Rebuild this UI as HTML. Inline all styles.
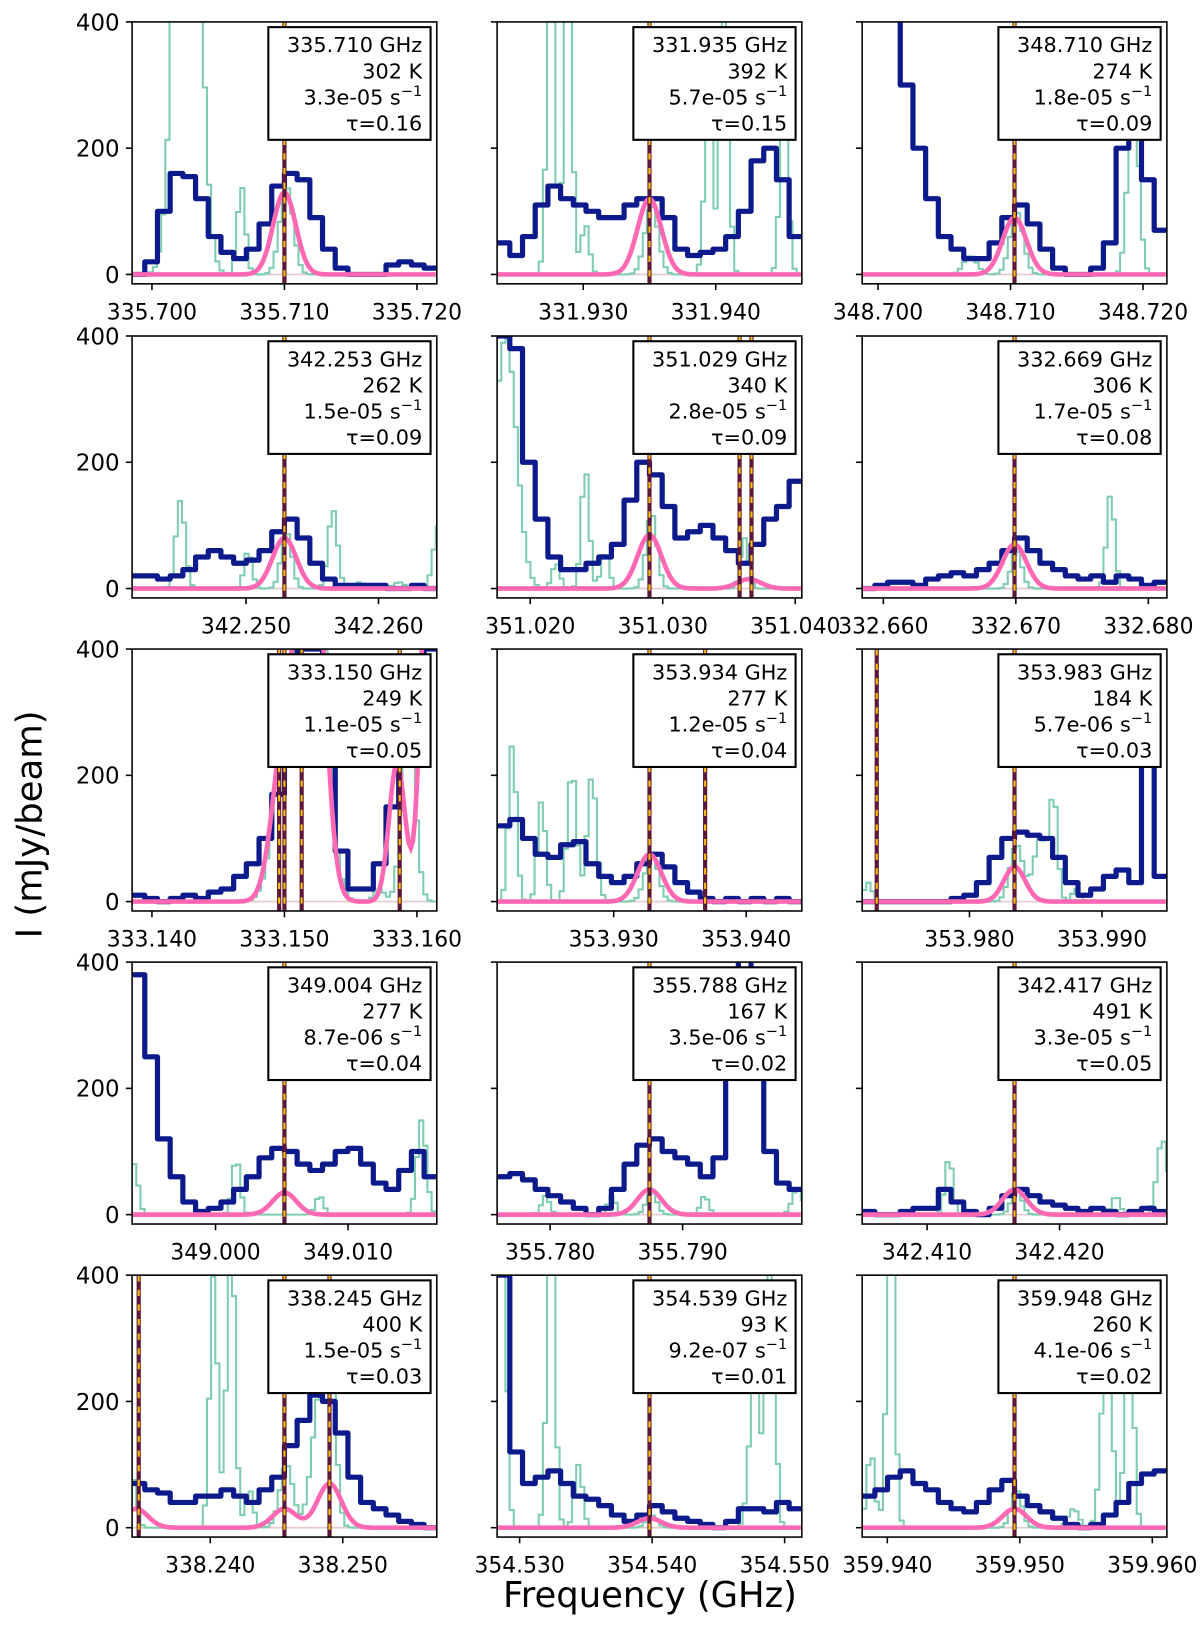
<!DOCTYPE html>
<html><head><meta charset="utf-8"><style>
body{margin:0;background:#fff}
svg{display:block}
text{font-family:"DejaVu Sans","Liberation Sans",sans-serif;fill:#000}
</style></head><body>
<svg id="chart" width="1200" height="1635" viewBox="0 0 1200 1635" xmlns="http://www.w3.org/2000/svg">
<g id="root" transform="scale(1.04,1.0435)"></g>
</svg>
<script>
// ---- data ----
const centers = [335.7100,331.9350,348.7103,342.2529,351.0290,332.6699,333.1500,353.9327,353.9834,349.0052,355.7875,342.4166,338.2456,354.5398,359.9496];
const boxFreq = ["335.710 GHz","331.935 GHz","348.710 GHz","342.253 GHz","351.029 GHz","332.669 GHz","333.150 GHz","353.934 GHz","353.983 GHz","349.004 GHz","355.788 GHz","342.417 GHz","338.245 GHz","354.539 GHz","359.948 GHz"];
const boxT = ["302 K","392 K","274 K","262 K","340 K","306 K","249 K","277 K","184 K","277 K","167 K","491 K","400 K","93 K","260 K"];
const boxA = ["3.3e-05","5.7e-05","1.8e-05","1.5e-05","2.8e-05","1.7e-05","1.1e-05","1.2e-05","5.7e-06","8.7e-06","3.5e-06","3.3e-05","1.5e-05","9.2e-07","4.1e-06"];
const boxTau = ["0.16","0.15","0.09","0.09","0.09","0.08","0.05","0.04","0.03","0.04","0.02","0.05","0.03","0.01","0.02"];
// observed spectra (mJy/beam), 24 channels across each panel
const observed = [
[0,20,100,160,155,120,60,35,25,40,80,140,160,150,90,40,10,0,0,0,15,20,15,10],
[50,30,60,110,140,120,110,100,90,90,110,120,120,90,40,30,35,40,60,100,180,200,150,60],
[450,450,420,300,200,120,60,40,25,25,50,90,110,80,40,10,0,0,10,50,200,220,150,70],
[20,20,15,20,30,50,60,50,40,45,60,90,110,80,40,15,5,5,5,5,0,0,5,0],
[400,380,200,110,50,30,30,40,50,70,140,200,180,130,80,90,100,80,60,40,70,110,130,170],
[0,5,10,10,5,15,20,25,20,30,40,60,80,60,40,30,20,15,20,10,20,15,5,10],
[10,5,0,5,10,5,15,20,40,60,100,170,300,400,400,250,80,20,20,60,150,280,330,400],
[120,130,100,75,70,90,95,60,40,30,40,60,75,55,30,15,5,0,5,0,5,0,5,0],
[0,0,0,0,0,0,0,5,10,30,70,100,110,105,100,70,30,10,20,40,50,30,240,40],
[380,250,120,60,20,5,10,20,40,60,90,105,100,80,70,80,100,105,80,50,40,70,100,60],
[60,65,55,40,30,20,10,0,10,40,80,110,120,100,90,80,60,90,250,420,300,100,50,40],
[5,0,0,5,10,10,40,20,5,0,10,30,40,30,20,15,10,5,10,5,0,5,10,5],
[70,60,55,40,40,50,50,60,50,40,60,80,130,170,210,200,150,80,40,30,20,10,5,0],
[400,120,70,80,90,70,50,45,35,20,10,20,35,25,15,10,5,0,10,30,30,25,40,30],
[50,60,80,90,70,60,40,30,25,40,60,75,50,35,25,15,5,0,5,20,40,70,85,90]
];
// other-line model components: [offset MHz, amplitude, sigma MHz]
const otherLines = [
[[-7.5,1200,0.8],[-3.4,140,0.3],[0,140,0.5]],
[[-7.6,500,0.3],[-6.3,500,0.3],[-5,80,0.3],[0,110,0.5],[4.3,300,0.3],[5.5,500,0.3],[10,300,0.3]],
[[-3.5,30,0.5],[0,100,0.5],[8.8,300,0.4]],
[[-8,140,0.35],[-2.9,60,0.3],[0,90,0.4],[3.5,125,0.35],[5.5,10,0.4],[8.5,10,0.4],[11.5,100,0.4]],
[[-11,400,0.8],[-7.2,40,0.3],[-5,190,0.3],[-3.5,60,0.3],[0,120,0.4],[7,80,0.3]],
[[0,60,0.4],[7.1,150,0.3]],
[[0,250,0.9],[2,700,0.9],[7,20,0.4],[9.2,300,0.5]],
[[-10.5,250,0.3],[-8.3,160,0.3],[-6,210,0.35],[-4.5,200,0.35],[0,75,0.5]],
[[-11.2,30,0.3],[0,90,0.5],[1.8,100,0.5],[2.8,160,0.3],[4.5,20,0.3]],
[[-11.5,80,0.3],[-3.8,90,0.3],[2.5,30,0.3],[10.2,150,0.35]],
[[-8,30,0.3],[-3,30,0.3],[0,35,0.4],[4,30,0.3],[11,40,0.4]],
[[-5.1,90,0.3],[0,40,0.4],[7.5,30,0.3],[11,120,0.4]],
[[-11.6,80,0.3],[-5.5,400,0.3],[-4.2,500,0.3],[-2.8,60,0.3],[0,100,0.5],[2.5,200,0.6],[3.3,250,0.4]],
[[-11.3,600,0.3],[-7.6,500,0.3],[-5.5,100,0.3],[0,20,0.4],[7.8,250,0.4],[9,500,0.3]],
[[-11,120,0.3],[-9.5,500,0.3],[0,60,0.4],[4.3,30,0.4],[6.8,300,0.4],[8.5,400,0.3]]
];
// target-line model components
const targetLines = [
[[0,130,0.85]],[[0,120,0.9]],[[0,90,0.9]],[[0,80,0.9]],[[0,85,0.9],[7.5,15,0.9]],[[0,70,0.9]],
[[0,250,0.9],[2,700,0.9],[8.5,220,0.6],[11,700,0.6]],[[0,75,0.9]],[[0,55,0.8]],
[[0,35,0.9]],[[0,40,0.9]],[[0,40,0.9]],
[[-11.2,30,0.9],[0,30,0.9],[3.4,70,0.9]],[[0,15,0.9]],[[0,30,0.9]]
];
// marked transition offsets (MHz)
const marks = [[0],[0],[0],[0],[0,6.8,7.7],[0],[-0.4,0,1.3,8.7],[0,4.2],[-10.4,0],[0],[0],[0],[-11,0,3.4],[0],[0]];
const yTicks = [0,200,400];

// ---- layout ----
const NS="http://www.w3.org/2000/svg";
const root=document.getElementById('root');
const lefts=[127,478,829], tops=[21,322,622,922,1222], W=293, H=251, PX=12.74, YS=0.605;
function el(tag,attrs,parent){const e=document.createElementNS(NS,tag);for(const k in attrs)e.setAttribute(k,attrs[k]);(parent||root).appendChild(e);return e;}
function gsum(comps,off){let s=0;for(const c of comps)s+=c[1]*Math.exp(-0.5*((off-c[0])/c[2])**2);return s;}

centers.forEach((c,i)=>{
  const L=lefts[i%3], T=tops[Math.floor(i/3)], cx=L+W/2, y0=T+242;
  const xs=f=>cx+(f-c)*1000*PX, xo=o=>cx+o*PX, ys=v=>y0-v*YS;
  const g=el('g',{});
  
  
  const clip=el('clipPath',{id:'c'+i},g); el('rect',{x:L,y:T,width:W,height:H},clip);
  const pg=el('g',{'clip-path':'url(#c'+i+')'},g);
  el('line',{x1:L,x2:L+W,y1:ys(0),y2:ys(0),stroke:'#e8c8c8','stroke-width':1.5},pg);
  // other lines model (stepped)
  let d='';const st=4;for(let p=0;p<=W;p+=st){const o=(p-W/2)/PX;const y=ys(gsum(otherLines[i],o)).toFixed(1);d+=(p?'L'+(L+p)+','+y:'M'+L+','+y)+'L'+(L+p+st)+','+y;}
  const t=el('path',{d,fill:'none',stroke:'#7fcdb0','stroke-width':2},pg);
  
  
  const n=observed[i].length, step=W/n; d='';
  observed[i].forEach((v,k)=>{const x0=L+k*step;d+=(k?'L':'M')+x0+','+ys(v)+'L'+(x0+step)+','+ys(v);});
  const b=el('path',{d,fill:'none',stroke:'#0d1a8c','stroke-width':5,'stroke-linejoin':'round'},pg);
  
  
  d='';for(let p=0;p<=W;p+=2){const o=(p-W/2)/PX;d+=(p?'L':'M')+(L+p)+','+ys(gsum(targetLines[i],o)).toFixed(1);}
  const pk=el('path',{d,fill:'none',stroke:'#ff69b4','stroke-width':4.5},pg);
  
  
  marks[i].forEach(o=>{const x=xo(o);
    const m=el('line',{x1:x,x2:x,y1:T,y2:T+H,stroke:'#5a1738','stroke-width':4},pg);
    
    
    el('line',{x1:x,x2:x,y1:T,y2:T+H,stroke:'#ffc107','stroke-width':2,'stroke-dasharray':'6 8'},pg);});
  el('rect',{x:L,y:T,width:W,height:H,fill:'none',stroke:'#000','stroke-width':1.5},g);
  yTicks.forEach(v=>{el('line',{x1:L-6,x2:L,y1:ys(v),y2:ys(v),stroke:'#000','stroke-width':1.5},g);
    if(i%3===0){const tl=el('text',{x:L-12,y:ys(v)+8,'text-anchor':'end','font-size':22},g);tl.textContent=v;
      }});
  const lo=c-W/2/PX/1000, hi=c+W/2/PX/1000;
  for(let f=Math.ceil(lo*100)/100;f<=hi;f+=0.01){const x=xs(f);
    el('line',{x1:x,x2:x,y1:T+H,y2:T+H+6,stroke:'#000','stroke-width':1.5},g);
    const xl=el('text',{x:x,y:T+H+34,'text-anchor':'middle','font-size':21},g);xl.textContent=f.toFixed(3);
    }
  const bx=el('g',{},g);
  
  
  el('rect',{x:L+131,y:T+5,width:156,height:108,fill:'#fff',stroke:'#000','stroke-width':2},bx);
  const rx=L+279;
  [boxFreq[i],boxT[i]].forEach((s,k)=>{const tx=el('text',{x:rx,y:T+29+k*25,'text-anchor':'end','font-size':20},bx);tx.textContent=s;});
  const ta=el('text',{x:rx,y:T+79,'text-anchor':'end','font-size':20},bx);
  ta.textContent=boxA[i]+' s';
  const sup=el('tspan',{dy:-8,'font-size':14},ta);sup.textContent='\u22121';
  const tt=el('text',{x:rx,y:T+104,'text-anchor':'end','font-size':20},bx);tt.textContent='\u03c4='+boxTau[i];
});
const xt=el('text',{x:625,y:1540,'text-anchor':'middle','font-size':34});xt.textContent='Frequency (GHz)';

const yt=el('text',{x:0,y:0,'text-anchor':'middle','font-size':34,transform:'translate(40,790) rotate(-90)'});yt.textContent='I (mJy/beam)';

</script>
</body></html>
